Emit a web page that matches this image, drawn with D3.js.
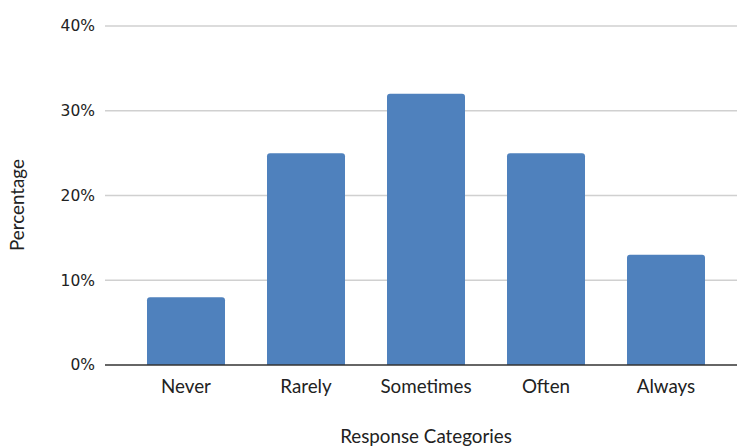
<!DOCTYPE html>
<html>
<head>
<meta charset="utf-8">
<script src="https://cdn.jsdelivr.net/npm/d3@7"></script>
<style>
  html, body { margin: 0; padding: 0; background: #fff; }
  svg { display: block; }
</style>
</head>
<body>
<svg id="chart" width="737" height="446"></svg>
<script>
const categories = ["Never", "Rarely", "Sometimes", "Often", "Always"];
const percentages = [8, 25, 32, 25, 13];
const tickValues = [0, 10, 20, 30, 40];
const xTitle = "Response Categories";
const yTitle = "Percentage";

const svg = d3.select("#chart");
const plotLeft = 105, plotRight = 737, plotTop = 26, plotBottom = 365;

const x = d3.scaleBand().domain(categories).range([126, 726]).paddingInner(0.35).paddingOuter(0.175);
const y = d3.scaleLinear().domain([0, 40]).range([plotBottom, plotTop]);

// horizontal gridlines
svg.append("g").selectAll("line").data(tickValues.filter(d => d > 0)).join("line")
  .attr("x1", plotLeft).attr("x2", plotRight)
  .attr("y1", d => y(d)).attr("y2", d => y(d))
  .attr("stroke", "#d0d0d0").attr("stroke-width", 1.5);

// y tick labels
svg.append("g").selectAll("text").data(tickValues).join("text")
  .attr("x", 95).attr("y", d => y(d)).attr("dy", "0.35em")
  .attr("text-anchor", "end")
  .attr("font-family", "DejaVu Sans, sans-serif").attr("font-size", 15.5)
  .attr("fill", "#222")
  .text(d => d + "%");

// bars with slightly rounded top corners
const r = 3;
svg.append("g").selectAll("path").data(categories).join("path")
  .attr("fill", "#4f81bd")
  .attr("d", (c, i) => {
    const x0 = x(c), x1 = x0 + x.bandwidth();
    const yt = y(percentages[i]), yb = y(0);
    return `M${x0},${yb} L${x0},${yt + r} Q${x0},${yt} ${x0 + r},${yt} L${x1 - r},${yt} Q${x1},${yt} ${x1},${yt + r} L${x1},${yb} Z`;
  });

// baseline
svg.append("line")
  .attr("x1", plotLeft).attr("x2", plotRight)
  .attr("y1", y(0)).attr("y2", y(0))
  .attr("stroke", "#333").attr("stroke-width", 1.5);

const labelFont = "Lato, 'Open Sans', sans-serif";
const labelSize = 18.8;

// category labels
svg.append("g").selectAll("text").data(categories).join("text")
  .attr("x", c => x(c) + x.bandwidth() / 2).attr("y", 393)
  .attr("text-anchor", "middle")
  .attr("font-family", labelFont).attr("font-size", labelSize)
  .attr("fill", "#222")
  .text(c => c);

// axis titles
svg.append("text")
  .attr("x", 426).attr("y", 443)
  .attr("text-anchor", "middle")
  .attr("font-family", labelFont).attr("font-size", labelSize)
  .attr("fill", "#222")
  .text(xTitle);

svg.append("text")
  .attr("transform", "translate(24,205) rotate(-90)")
  .attr("text-anchor", "middle")
  .attr("font-family", labelFont).attr("font-size", labelSize)
  .attr("fill", "#222")
  .text(yTitle);
</script>
</body>
</html>
